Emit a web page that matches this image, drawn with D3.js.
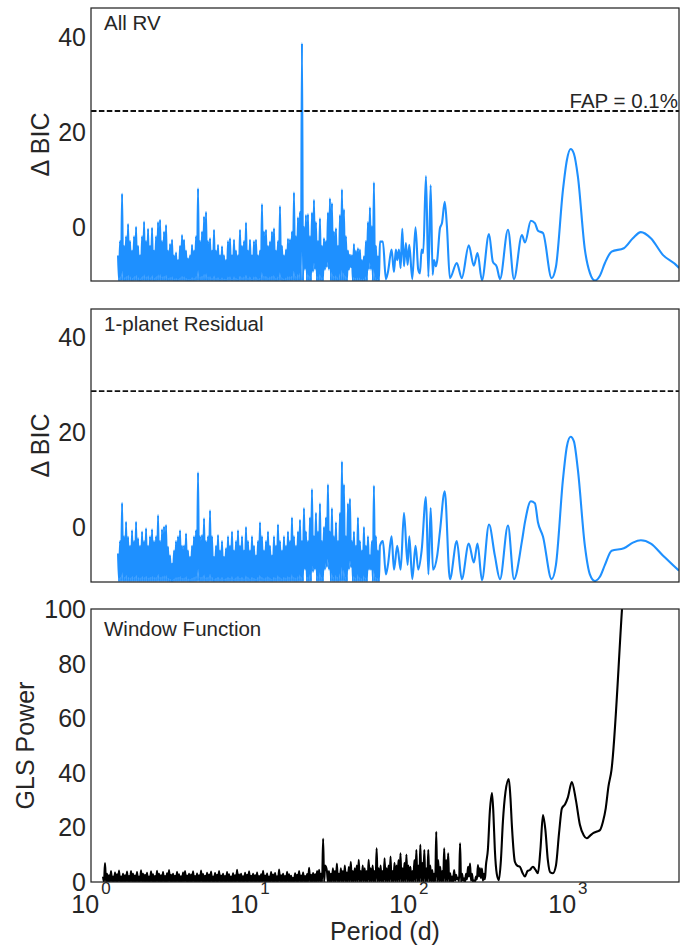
<!DOCTYPE html>
<html>
<head>
<meta charset="utf-8">
<script src="https://cdn.jsdelivr.net/npm/d3@7"></script>
<style>
  body { margin: 0; background: #fff; }
  text { font-family: "Liberation Sans", Arial, Helvetica, sans-serif; fill: #262626; }
</style>
</head>
<body>
<svg id="chart" width="692" height="945"></svg>
<script>
// ---------------- data ----------------
const periodTicks = [1, 10, 100, 1000];
const periodTickExponents = ["0", "1", "2", "3"];
const bicTicks = [0, 20, 40];
const glsTicks = [0, 20, 40, 60, 80, 100];

// FAP = 0.1% thresholds (Delta BIC)
const fapAllRv = 24.4;
const fapResidual = 28.6;

// All RV: densely sampled short-period part (peaks and the dips between them)
const allRvDenseSpan = [1.48, 65.7];
const allRvPeaks = [
  -6, -3, 7, -4, -2, 0.6, -3, -5, -2, 0,
  -4, -6, -2, 1.1, -3, -0.4, -4, -0.2, -5, -2,
  1, 1.5, -3, -1, 0.4, -5, -3.6, -2.7, -6, -5.4,
  -7, -4, -1.7, -2.7, -5, -6.6, -6, -3.8, -5, -2,
  8.1, -3, -1, 2.2, 3.2, -3, -2.4, -5, -0.6, -5,
  -3.8, -6, -4.1, -6, -7, -3, -2.4, -6, -2.7, -5,
  -6, -0.6, -4, -3, 0.9, -5, -2.7, -6, -3, -2.7,
  -6, -5, 4.8, -1, -0.6, -4, -3.1, -1, -0.3, -5,
  -3, 4.4, -4, -6, -4.8, -2.5, -2.6, -1, 7.3, -2,
  2, 3.2, 38.7, 0, 2.5, 2.7, -2, 3, 5.7, 1,
  -3, 1.8, -4, -2.4, -3, 3, 6, 5, -1, -0.3,
  -4, 2.5, 7.9, 3.7, -2, -5, -5.9, -6, -3.6, -5,
  -4.5, -4.8, -7, -6.2, -3, 1, 4.1, 0.1, 9.4, -4,
  -6.2, -3.1
];
const allRvDips = [
  -11.4, -11.4, -11.4, -11.4, -11.4, -11.4, -11.4, -11.4, -11.4, -11.4,
  -11.4, -11.4, -11.4, -11.4, -11.4, -11.4, -11.4, -11.4, -11.4, -11.4,
  -11.4, -11.4, -11.4, -11.4, -11.4, -11.4, -11.4, -11.4, -11.4, -11.4,
  -11.4, -11.4, -11.4, -11.4, -11.4, -11.4, -11.4, -11.4, -11.4, -11.4,
  -11.4, -11.4, -11.4, -11.4, -11.4, -11.4, -11.4, -11.4, -11.4, -11.4,
  -11.4, -11.4, -11.4, -11.4, -11.4, -11.4, -11.4, -11.4, -11.4, -11.4,
  -11.4, -11.4, -11.4, -11.4, -11.4, -11.4, -11.4, -11.4, -11.4, -11.4,
  -11.4, -11.4, -11.4, -11.4, -11.4, -11.4, -11.4, -11.4, -11.4, -11.4,
  -11.4, -11.4, -11.4, -11.4, -11.4, -11.4, -11.4, -11.4, -11.4, -11.4,
  -11.4, -11.4, -11.4, -9, -11.4, -11.4, -11.4, -9.5, -9, -11.4,
  -11.4, -11.4, -11.4, -9, -8.5, -9, -11.4, -11.4, -11.4, -11.4,
  -11.4, -11.4, -11.4, -11.4, -11.4, -9, -8.5, -11.4, -11.4, -11.4,
  -11.4, -11.4, -11.4, -11.4, -11.4, -9, -9, -11.4, -11.4, -11.4,
  -11.4
];
// All RV: longer periods, [period (d), Delta BIC]
const allRvTail = [
  [68.6, -3.1], [71.6, -11], [73.8, -9.5], [77.8, -4.8], [80.5, -9.5], [82.8, -4.8],
  [84.4, -7], [86.5, -4.8], [88.7, -8.7], [90.8, -0.4], [93.1, -8.3], [95.7, -3.4],
  [98.1, -8], [100.5, -3.8], [105, -11], [110, -0.1], [114.4, -9], [117.3, -9.8],
  [120.2, -4.8], [123, -5.5], [128, 10.7], [132.6, -10.5], [137, 8.8], [141, -10.1],
  [143.7, -7], [147.9, -8.3], [150.7, -7], [156.7, -0.3], [161.4, 0.8], [168, 5.3],
  [173.4, 0.1], [181, -10.8], [200, -7.6], [215, -10.8], [238, -3.9], [256, -8.2],
  [270, -5.5], [288, -11.2], [319, -1.5], [337, -7.3], [357, -8.4], [374, -11],
  [420, -0.6], [458, -11], [514, -1.7], [537, -3.3], [585, 1.3], [620, 0.8],
  [648, -0.8], [697, -1.3], [790, -10.8], [841, -8.4], [931, 7.8], [986, 14.1],
  [1040, 16.4], [1091, 15.4], [1156, 10.6], [1279, -4.8], [1375, -9.7], [1479, -11.3],
  [1589, -10.3], [1710, -7.6], [1884, -5.2], [2250, -4.5], [2564, -2.4], [2878, -1.1],
  [3325, -2.4], [3957, -5.9], [4920, -8.4], [5000, -8.7]
];

// 1-planet residual
const residDenseSpan = [1.48, 65.7];
const residPeaks = [
  -5.6, -3, 5.1, -2, 1.1, -2.1, -4, -0.7, -3, 1.1,
  -2.4, -4, -1, -3, -0.3, -4, -2, -0.5, -3, -2,
  2.5, -3, -0.5, 0.1, 0.4, -4.2, -6, -7.7, -5, -3,
  -2, -0.7, -4, -3.9, -1.4, -5, -6.3, -4, -2, -0.7,
  11.5, -2, -1.7, 1.8, -3, -2, 3.5, -2, -6.3, -4,
  -1.7, -5, -3, -6.3, -4.5, -2, -4, -1, -5, -3,
  -0.7, -4, -2, -5, 0, -3, -5, -2, -4, -6,
  -3, 1, -2, -5, -3, -1, -4, -6, -2, -4,
  0.5, -3, -5, -2, -4, -1, -3, 2, -2, -4,
  -1, 1.5, -3, 4, -1, -3, 2, 8, -2, 3,
  -1, 5, -3, 0, 2, 9, -1, 4, -2, 1,
  -3, 3, 13.8, 9, -2, 5, 6, -3, -1, -4,
  2, -3, -5, 0, -4, -2, -6, -3, 8.7, -2,
  -5, -4
];
const residDips = [
  -11.5, -11.5, -11.5, -11.5, -11.5, -11.5, -11.5, -11.5, -11.5, -11.5,
  -11.5, -11.5, -11.5, -11.5, -11.5, -11.5, -11.5, -11.5, -11.5, -11.5,
  -11.5, -11.5, -11.5, -11.5, -11.5, -11.5, -11.5, -11.5, -11.5, -11.5,
  -11.5, -11.5, -11.5, -11.5, -11.5, -11.5, -11.5, -11.5, -11.5, -11.5,
  -11.5, -11.5, -11.5, -11.5, -11.5, -11.5, -11.5, -11.5, -11.5, -11.5,
  -11.5, -11.5, -11.5, -11.5, -11.5, -11.5, -11.5, -11.5, -11.5, -11.5,
  -11.5, -11.5, -11.5, -11.5, -11.5, -11.5, -11.5, -11.5, -11.5, -11.5,
  -11.5, -11.5, -11.5, -11.5, -11.5, -11.5, -11.5, -11.5, -11.5, -11.5,
  -11.5, -11.5, -11.5, -11.5, -11.5, -11.5, -11.5, -11.5, -11.5, -11.5,
  -11.5, -11.5, -11.5, -9, -11.5, -11.5, -11.5, -9.5, -9, -11.5,
  -11.5, -11.5, -11.5, -9, -8.5, -9, -11.5, -11.5, -11.5, -11.5,
  -11.5, -11.5, -11.5, -11.5, -11.5, -9, -8.5, -11.5, -11.5, -11.5,
  -11.5, -11.5, -11.5, -11.5, -11.5, -9, -9, -11.5, -11.5, -11.5,
  -11.5
];
const residTail = [
  [68.6, -3], [71.6, -10], [73.8, -8], [77.8, -2], [80.5, -9], [84.4, -4],
  [88.7, -9], [93.1, 3], [98.1, -8], [100.5, -2], [105, -11], [110, -4],
  [114.4, -9], [120.2, -5], [128, 6.3], [132.6, -10], [137, 4], [141.6, -9],
  [150.7, -6], [156.7, -1], [168, 7.5], [181, -11], [200, -3], [215, -11],
  [238, -3.5], [256, -7.5], [270, -3.5], [288, -11.2], [319, 0.5], [347, -6],
  [374, -11], [420, 0.3], [458, -11], [514, -3], [537, 1], [585, 5.4],
  [620, 5], [648, 1], [697, -2], [790, -11], [841, -8], [931, 10],
  [986, 17], [1040, 19], [1091, 18], [1156, 12], [1279, -4], [1375, -10],
  [1479, -11.4], [1589, -10.5], [1710, -8], [1884, -5], [2250, -4.5], [2564, -3.3],
  [2878, -2.8], [3325, -3.5], [3957, -6], [4920, -9], [5000, -9.2]
];

// Window function (GLS power)
const windowDenseSpanA = [1.19, 29.7];
const windowPeaksA = [
  2, 6.9, 3, 2.5, 4, 2, 3.5, 2.8, 4.2, 2,
  3, 2.5, 3.8, 2.2, 4, 3, 2.4, 3.6, 2, 4.3,
  3, 2.6, 3.4, 2, 3.9, 2.8, 2.2, 4.1, 3, 2.5,
  3.6, 2.2, 3.2, 4.4, 2.6, 3, 2.3, 3.7, 2.8, 2.1,
  3.5, 4, 2.4, 3, 2.7, 3.9, 2.2, 3.1, 2.5, 4.2,
  2.9, 2.3, 3.4, 2.7, 3.8, 2, 3.3, 2.6, 4, 2.4,
  3, 2.2, 3.6, 2.8, 2, 3.2, 2.5, 4.5, 2.7, 3,
  2.1, 3.4, 2.6, 3.9, 2.3, 3, 2.5, 3.5, 2.2, 2.8,
  4.1, 2.4, 3.1, 2, 3.6, 2.7, 3.3, 2.1, 4.6, 2.5,
  3, 2.2, 3.7, 2.8, 2.3, 1.5, 3.2, 2.6, 4, 2.4,
  3.5, 2.2, 2.9, 5.2, 2.6, 3.3, 2.8, 4, 4.5, 3,
  15.8, 6
];
const windowDipsA = [
  0, 0, 0, 0, 0, 0, 0, 0, 0, 0, 0, 0, 0, 0, 0, 0, 0, 0, 0, 0,
  0, 0, 0, 0, 0, 0, 0, 0, 0, 0, 0, 0, 0, 0, 0, 0, 0, 0, 0, 0,
  0, 0, 0, 0, 0, 0, 0, 0, 0, 0, 0, 0, 0, 0, 0, 0, 0, 0, 0, 0,
  0, 0, 0, 0, 0, 0, 0, 0, 0, 0, 0, 0, 0, 0, 0, 0, 0, 0, 0, 0,
  0, 0, 0, 0, 0, 0, 0, 0, 0, 0, 0, 0, 0, 0, 0, 0, 0, 0, 0, 0,
  0, 0, 0, 0, 0, 0, 0, 0, 0, 0, 0
];
const windowDenseSpanB = [30.5, 305];
const windowPeaksB = [
  4, 4, 3, 5, 4, 6.8, 3, 5, 4, 6,
  3.5, 5.5, 7.4, 4, 5, 6, 8.1, 4, 6, 5,
  4, 8.1, 5, 6, 4, 12.3, 5, 6, 4, 8.7,
  5, 6, 9.3, 4, 7, 6, 8, 10.5, 5, 7,
  10.1, 6, 5.6, 4, 8, 11.7, 6, 13.6, 7, 11.7,
  5, 11.7, 6, 4.4, 3, 18.4, 8, 5.6, 4, 12.3,
  8, 10.5, 3.2, 2, 4.4, 2.6, 1.5, 14.2, 3, 1.4,
  3, 5.6, 6.8, 3, 0.5, 2, 6.2, 5, 4.9, 3,
  6
];
const windowDipsB = [
  0, 0, 0, 0, 0, 0, 0, 0, 0, 0, 0, 0, 0, 0, 0, 0, 0, 0, 0, 0,
  0, 0, 0, 0, 0, 0, 0, 0, 0, 0, 0, 0, 0, 0, 0, 0, 0, 0, 0, 0,
  0, 0, 0, 0, 0, 0, 0, 0, 0, 0, 0, 0, 0, 0, 0, 0, 0, 0, 0, 0,
  0, 0, 0, 0, 0.5, 1, 0.3, 0, 0.5, 0, 1, 2, 0.5, 0, 0, 1, 2, 1.5, 0.5, 1
];
const windowTail = [
  [314, 12], [323, 26], [333, 32.6], [340, 25], [347, 12], [357, 3], [368, 0.7],
  [379, 8], [390, 22], [405, 33], [425, 37.7], [435, 31], [445, 20], [464, 7.4],
  [480, 6], [499, 5.6], [517, 3.5], [537, 2], [557, 4], [577, 4.4], [603, 5.6],
  [625, 4.5], [648, 3.2], [672, 12], [697, 24.5], [722, 19], [748, 8], [775, 3.5],
  [805, 3.2], [841, 6], [880, 18], [917, 27], [960, 28.5], [1000, 31], [1059, 36.6],
  [1123, 30], [1190, 21], [1260, 17], [1312, 16], [1380, 17], [1450, 18],
  [1520, 18.5], [1590, 19], [1660, 22], [1730, 27], [1800, 35], [1880, 41],
  [2190, 100], [2400, 136]
];

// ---------------- helpers ----------------
// Interleave peaks and dips evenly in log-period across a span.
function denseSeries(span, peaks, dips) {
  const vals = [];
  peaks.forEach((p, i) => {
    vals.push(p);
    if (i < dips.length && i < peaks.length - 1) vals.push(dips[i]);
  });
  const l0 = Math.log10(span[0]), l1 = Math.log10(span[1]);
  const n = vals.length;
  return vals.map((v, i) => ({ p: Math.pow(10, l0 + (l1 - l0) * i / (n - 1)), v }));
}
const tailSeries = arr => arr.map(([p, v]) => ({ p, v }));

const allRvSeries = denseSeries(allRvDenseSpan, allRvPeaks, allRvDips).concat(tailSeries(allRvTail));
const residSeries = denseSeries(residDenseSpan, residPeaks, residDips).concat(tailSeries(residTail));
const windowSeries = denseSeries(windowDenseSpanA, windowPeaksA, windowDipsA)
  .concat(denseSeries(windowDenseSpanB, windowPeaksB, windowDipsB))
  .concat(tailSeries(windowTail));

// ---------------- layout ----------------
const svg = d3.select("#chart");
const left = 91, right = 679;
const x = d3.scaleLog().domain([1, 5000]).range([left, right]);

const panels = [
  { id: "allrv", top: 8, bottom: 281, domain: [-11.4, 46.1], ticks: bicTicks,
    series: allRvSeries, color: "#1E90FF", label: "All RV", labelY: 30,
    fap: fapAllRv, fapText: "FAP = 0.1%", yTitle: "\u0394 BIC", yTitleX: 49 },
  { id: "resid", top: 309, bottom: 582, domain: [-11.6, 45.9], ticks: bicTicks,
    series: residSeries, color: "#1E90FF", label: "1-planet Residual", labelY: 331,
    fap: fapResidual, fapText: null, yTitle: "\u0394 BIC", yTitleX: 49 },
  { id: "window", top: 609, bottom: 882, domain: [0, 100], ticks: glsTicks,
    series: windowSeries, color: "#000000", label: "Window Function", labelY: 636,
    fap: null, fapText: null, yTitle: "GLS Power", yTitleX: 34 }
];

panels.forEach(pn => {
  const y = d3.scaleLinear().domain(pn.domain).range([pn.bottom, pn.top]);
  const g = svg.append("g");

  g.append("clipPath").attr("id", "clip-" + pn.id)
    .append("rect").attr("x", left).attr("y", pn.top)
    .attr("width", right - left).attr("height", pn.bottom - pn.top);

  const plot = g.append("g").attr("clip-path", `url(#clip-${pn.id})`);

  const line = d3.line()
    .x(d => x(d.p))
    .y(d => y(d.v))
    .curve(d3.curveMonotoneX);

  plot.append("path")
    .datum(pn.series)
    .attr("fill", "none")
    .attr("stroke", pn.color)
    .attr("stroke-width", 2.1)
    .attr("stroke-linejoin", "round")
    .attr("d", line);

  if (pn.fap !== null) {
    plot.append("line")
      .attr("x1", left).attr("x2", right)
      .attr("y1", y(pn.fap)).attr("y2", y(pn.fap))
      .attr("stroke", "#111").attr("stroke-width", 1.9)
      .attr("stroke-dasharray", "5.5,2.4");
  }
  if (pn.fapText) {
    g.append("text")
      .attr("x", right - 1).attr("y", y(pn.fap) - 3)
      .attr("text-anchor", "end")
      .style("font-size", "20.5px")
      .text(pn.fapText);
  }

  // frame
  g.append("rect")
    .attr("x", left).attr("y", pn.top)
    .attr("width", right - left).attr("height", pn.bottom - pn.top)
    .attr("fill", "none").attr("stroke", "#262626").attr("stroke-width", 1.25);

  // y tick labels
  g.selectAll("text.ytick").data(pn.ticks).enter().append("text")
    .attr("class", "ytick")
    .attr("x", left - 5).attr("y", d => y(d))
    .attr("dy", "0.36em")
    .attr("text-anchor", "end")
    .style("font-size", "25px")
    .text(d => d);

  // panel label
  g.append("text")
    .attr("x", 104).attr("y", pn.labelY)
    .style("font-size", "20.5px")
    .text(pn.label);

  // y axis title
  g.append("text")
    .attr("transform", `translate(${pn.yTitleX},${(pn.top + pn.bottom) / 2}) rotate(-90)`)
    .attr("text-anchor", "middle")
    .style("font-size", "25px")
    .text(pn.yTitle);
});

// x tick labels (10^n) under the bottom panel
const xt = svg.append("g");
periodTicks.forEach((t, i) => {
  const txt = xt.append("text")
    .attr("x", x(t)).attr("y", 913)
    .attr("text-anchor", "middle")
    .style("font-size", "25px");
  txt.append("tspan").text("10");
  txt.append("tspan")
    .attr("dx", 2).attr("dy", -19)
    .style("font-size", "17px")
    .text(periodTickExponents[i]);
});

svg.append("text")
  .attr("x", (left + right) / 2).attr("y", 940)
  .attr("text-anchor", "middle")
  .style("font-size", "25px")
  .text("Period (d)");
</script>
</body>
</html>
